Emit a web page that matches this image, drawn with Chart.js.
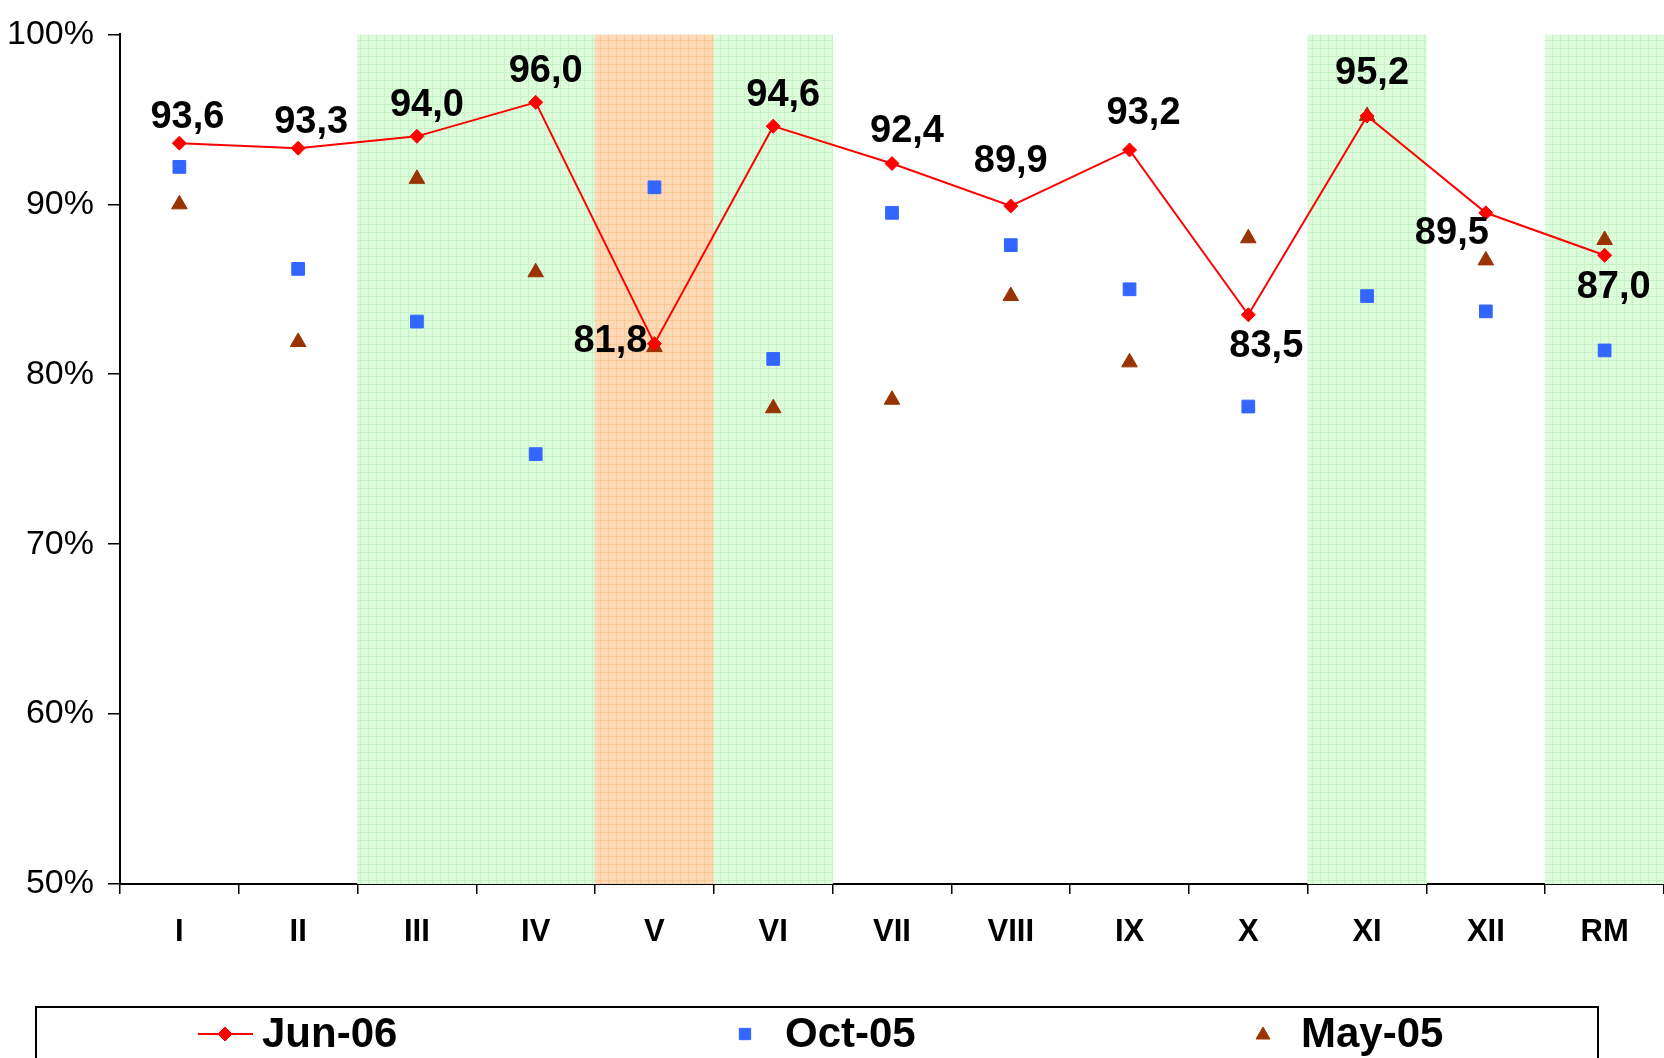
<!DOCTYPE html>
<html>
<head>
<meta charset="utf-8">
<script src="https://cdn.jsdelivr.net/npm/chart.js@4.4.0/dist/chart.umd.min.js"></script>
<style>
  html, body { margin: 0; padding: 0; background: #fff; overflow: hidden; }
  canvas { display: block; }
</style>
</head>
<body>
<canvas id="chart" width="1664" height="1058"></canvas>
<script>
// ---- data ----
const categories = ['I', 'II', 'III', 'IV', 'V', 'VI', 'VII', 'VIII', 'IX', 'X', 'XI', 'XII', 'RM'];
const jun06 = [93.6, 93.3, 94.0, 96.0, 81.8, 94.6, 92.4, 89.9, 93.2, 83.5, 95.2, 89.5, 87.0];
const oct05 = [92.2, 86.2, 83.1, 75.3, 91.0, 80.9, 89.5, 87.6, 85.0, 78.1, 84.6, 83.7, 81.4];
const may05 = [90.0, 81.9, 91.5, 86.0, 81.6, 78.0, 78.5, 84.6, 80.7, 88.0, 95.2, 86.7, 87.9];
// shaded columns: g = green, o = orange
const bands = ['', '', 'g', 'g', 'o', 'g', '', '', '', '', 'g', '', 'g'];
const yTicks = [50, 60, 70, 80, 90, 100];

// label offsets (px) for the Jun-06 values
const labelOffsets = [
  [8, -26], [13, -26], [10, -31], [10, -31], [-44, -2], [10, -31], [15, -32],
  [0, -45], [14, -36], [18, 32], [5, -42], [-34, 21], [9, 32]
];

const FONT = "'Liberation Sans', Arial, sans-serif";
const RED = '#ff0000', BLUE = '#3366ff', BROWN = '#993300';

function makePattern(base, line) {
  const c = document.createElement('canvas');
  c.width = 8; c.height = 8;
  const g = c.getContext('2d');
  g.fillStyle = base; g.fillRect(0, 0, 8, 8);
  g.fillStyle = line; g.fillRect(0, 0, 8, 1); g.fillRect(0, 0, 1, 8);
  return g.createPattern(c, 'repeat');
}
const bandFill = { g: makePattern('#dcfcdc', '#c6f3c6'), o: makePattern('#fdd9b7', '#fbc994') };

function marker(ctx, style, x, y, r, color) {
  ctx.save();
  ctx.fillStyle = color; ctx.strokeStyle = color; ctx.lineWidth = 1;
  ctx.beginPath();
  if (style === 'rectRot') {
    ctx.moveTo(x - r, y); ctx.lineTo(x, y - r); ctx.lineTo(x + r, y); ctx.lineTo(x, y + r);
  } else if (style === 'rect') {
    const s = Math.SQRT1_2 * r;
    ctx.rect(x - s, y - s, 2 * s, 2 * s);
  } else {
    ctx.moveTo(x, y - r);
    ctx.lineTo(x + r * Math.sin(2 * Math.PI / 3), y - r * Math.cos(2 * Math.PI / 3));
    ctx.lineTo(x + r * Math.sin(4 * Math.PI / 3), y - r * Math.cos(4 * Math.PI / 3));
  }
  ctx.closePath(); ctx.fill(); ctx.stroke();
  ctx.restore();
}

// values above the Jun-06 line
const valueLabels = {
  id: 'valueLabels',
  afterDatasetsDraw(chart) {
    const meta = chart.getDatasetMeta(1);
    const ctx = chart.ctx;
    ctx.save();
    ctx.font = 'bold 38px ' + FONT;
    ctx.fillStyle = '#000';
    ctx.textAlign = 'center';
    ctx.textBaseline = 'middle';
    meta.data.forEach((pt, i) => {
      const [dx, dy] = labelOffsets[i];
      ctx.fillText(jun06[i].toFixed(1).replace('.', ','), pt.x + dx, pt.y + dy);
    });
    ctx.restore();
  }
};

// boxed legend along the bottom
const boxLegend = {
  id: 'boxLegend',
  afterDraw(chart) {
    const ctx = chart.ctx;
    const y = 1034;
    ctx.save();
    ctx.strokeStyle = '#000'; ctx.lineWidth = 2;
    ctx.strokeRect(36, 1007, 1562, 80);

    ctx.strokeStyle = RED; ctx.lineWidth = 2;
    ctx.beginPath(); ctx.moveTo(198, y); ctx.lineTo(253, y); ctx.stroke();
    marker(ctx, 'rectRot', 225, y, 7, RED);
    marker(ctx, 'rect', 745, y, 8, BLUE);
    marker(ctx, 'triangle', 1263, y + 1, 8, BROWN);

    ctx.fillStyle = '#000';
    ctx.font = 'bold 42px ' + FONT;
    ctx.textBaseline = 'middle';
    ctx.fillText(chart.data.datasets[1].label, 262, y + 1);
    ctx.fillText(chart.data.datasets[2].label, 785, y + 1);
    ctx.fillText(chart.data.datasets[3].label, 1301, y + 1);
    ctx.restore();
  }
};

new Chart(document.getElementById('chart'), {
  type: 'bar',
  data: {
    labels: categories,
    datasets: [
      {
        type: 'bar',
        label: 'bands',
        data: bands.map(b => b ? [yTicks[0], yTicks[yTicks.length - 1]] : null),
        backgroundColor: bands.map(b => b ? bandFill[b] : 'rgba(0,0,0,0)'),
        barPercentage: 1,
        categoryPercentage: 1,
        order: 10
      },
      {
        type: 'line',
        label: 'Jun-06',
        data: jun06,
        borderColor: RED,
        borderWidth: 2,
        pointStyle: 'rectRot',
        pointRadius: 7,
        pointBackgroundColor: RED,
        pointBorderColor: RED,
        pointBorderWidth: 1,
        tension: 0,
        order: 1
      },
      {
        type: 'line',
        label: 'Oct-05',
        data: oct05,
        showLine: false,
        pointStyle: 'rect',
        pointRadius: 9,
        pointBackgroundColor: BLUE,
        pointBorderColor: BLUE,
        pointBorderWidth: 1,
        order: 2
      },
      {
        type: 'line',
        label: 'May-05',
        data: may05,
        showLine: false,
        pointStyle: 'triangle',
        pointRadius: 9,
        pointBackgroundColor: BROWN,
        pointBorderColor: BROWN,
        pointBorderWidth: 1,
        order: 3
      }
    ]
  },
  options: {
    responsive: false,
    animation: false,
    layout: { autoPadding: false, padding: { top: 29, right: 0, bottom: 0, left: 0 } },
    plugins: {
      legend: { display: false },
      tooltip: { enabled: false }
    },
    scales: {
      x: {
        offset: true,
        grid: { offset: true, drawOnChartArea: false, tickLength: 10, color: '#000', lineWidth: 1.5 },
        border: { color: '#000', width: 2 },
        ticks: { font: { family: FONT, size: 31, weight: 'bold' }, color: '#000', padding: 20, maxRotation: 0 },
        afterFit(scale) {
          scale.height = 174;
          scale.paddingLeft = 0;
          scale.paddingRight = 0;
        }
      },
      y: {
        min: yTicks[0],
        max: yTicks[yTicks.length - 1],
        afterBuildTicks(scale) { scale.ticks = yTicks.map(v => ({ value: v })); },
        grid: { drawOnChartArea: false, tickLength: 12, color: '#000', lineWidth: 1.5 },
        border: { color: '#000', width: 2 },
        ticks: { font: { family: FONT, size: 34 }, color: '#000', padding: 14, callback: v => v + '%' },
        afterFit(scale) { scale.width = 120; }
      }
    }
  },
  plugins: [valueLabels, boxLegend]
});
</script>
</body>
</html>
